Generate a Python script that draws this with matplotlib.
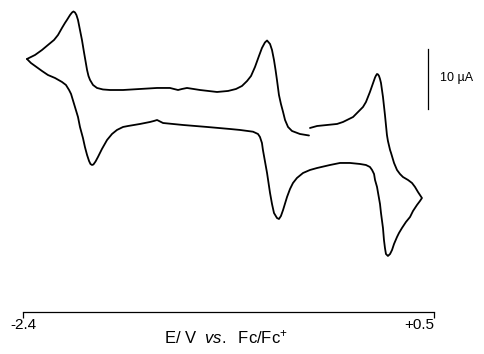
import numpy as np
import matplotlib
matplotlib.use("Agg")
import matplotlib.pyplot as plt

# Voltammogramme cyclique : potentiel en V (vs. Fc/Fc+), courant en microA
# (zero du courant arbitraire, le graphe n'a pas d'axe vertical)

# Balayage 1 : de la coupure vers le sommet anodique
E_aller = [-0.375, -0.325, -0.255, -0.184, -0.142, -0.114, -0.071, -0.043,
           -0.022, -0.001, 0.020, 0.034, 0.048, 0.063, 0.070, 0.084, 0.091,
           0.098, 0.105, 0.112, 0.119, 0.126, 0.133, 0.140, 0.147, 0.154,
           0.161, 0.168, 0.175, 0.190, 0.197, 0.218, 0.239, 0.260, 0.281,
           0.317, 0.345, 0.366, 0.387, 0.401, 0.415]
I_aller = [-0.50, -0.17, 0.00, 0.17, 0.50, 0.83, 1.33, 2.00,
           2.50, 3.00, 3.83, 4.67, 5.50, 6.50, 7.00, 7.92, 8.25,
           8.50, 8.42, 8.17, 7.67, 7.00, 5.83, 4.67, 3.17, 1.67,
           0.00, -1.67, -2.67, -4.17, -4.67, -6.33, -7.50, -8.17, -8.67,
           -9.17, -9.67, -10.33, -11.17, -11.67, -12.17]

# Balayage 2 : retour vers -2.4 V
E_retour = [0.401, 0.380, 0.352, 0.331, 0.302, 0.274, 0.253, 0.239, 0.218,
            0.204, 0.190, 0.175, 0.161, 0.154, 0.147, 0.140, 0.126, 0.119,
            0.105, 0.098, 0.084, 0.077, 0.063, 0.048, 0.020, -0.022, -0.093,
            -0.163, -0.234, -0.325, -0.375, -0.424, -0.467, -0.495, -0.516,
            -0.537, -0.565, -0.580, -0.594, -0.608, -0.629, -0.643, -0.657,
            -0.678, -0.693, -0.707, -0.714, -0.728, -0.742, -0.777, -0.869,
            -0.939, -1.102, -1.271, -1.412, -1.433, -1.454, -1.476, -1.504,
            -1.574, -1.659, -1.694, -1.737, -1.772, -1.807, -1.843, -1.871,
            -1.888, -1.903, -1.913, -1.924, -1.934, -1.948, -1.963, -1.977,
            -1.998, -2.012, -2.033, -2.047, -2.061, -2.075, -2.097, -2.125,
            -2.174, -2.224, -2.266, -2.315, -2.344, -2.372]
I_retour = [-12.67, -13.33, -14.33, -15.33, -16.17, -17.17, -18.00, -18.67,
            -19.83, -20.83, -21.50, -21.83, -21.50, -20.50, -19.17, -17.17,
            -14.67, -13.17, -11.33, -10.33, -9.17, -8.17, -7.50, -7.00,
            -6.67, -6.50, -6.33, -6.33, -6.67, -7.17, -7.50, -8.00, -8.83,
            -9.67, -10.67, -12.00, -14.17, -15.17, -15.67, -15.50, -14.67,
            -13.17, -11.33, -8.00, -6.00, -4.17, -3.00, -2.00, -1.50, -1.12,
            -0.83, -0.67, -0.33, 0.00, 0.33, 0.58, 0.83, 0.67, 0.50,
            0.17, -0.17, -0.33, -0.83, -1.50, -2.50, -4.00, -5.33,
            -6.08, -6.58, -6.67, -6.50, -6.00, -5.00, -3.67, -2.17,
            -0.33, 1.33, 3.00, 4.17, 5.17, 5.83, 6.67, 7.17,
            7.83, 8.33, 9.00, 9.83, 10.33, 11.00]

# Balayage 3 : de -2.4 V jusqu'a la coupure
E_fin = [-2.344, -2.315, -2.266, -2.224, -2.181, -2.153, -2.125, -2.104,
         -2.090, -2.068, -2.054, -2.044, -2.033, -2.023, -2.012, -1.998,
         -1.984, -1.970, -1.959, -1.948, -1.938, -1.927, -1.906, -1.878,
         -1.836, -1.786, -1.694, -1.574, -1.454, -1.363, -1.335, -1.306,
         -1.278, -1.243, -1.151, -1.031, -0.953, -0.897, -0.855, -0.819,
         -0.791, -0.763, -0.735, -0.714, -0.693, -0.678, -0.657, -0.643,
         -0.629, -0.618, -0.608, -0.594, -0.580, -0.565, -0.551, -0.530,
         -0.502, -0.446, -0.382]
I_fin = [11.33, 11.67, 12.50, 13.33, 14.17, 15.00, 16.17, 17.00,
         17.50, 18.33, 18.75, 18.92, 18.75, 18.33, 17.50, 15.83,
         14.17, 12.17, 10.67, 9.17, 8.17, 7.50, 6.67, 6.17,
         5.92, 5.83, 5.83, 6.00, 6.17, 6.17, 6.00, 5.83,
         6.00, 6.17, 5.83, 5.50, 5.67, 6.00, 6.50, 7.33,
         8.17, 9.67, 11.50, 12.83, 13.75, 14.08, 13.50, 12.50,
         10.83, 9.17, 7.50, 5.00, 3.50, 2.17, 0.83, -0.33,
         -1.00, -1.50, -1.75]

E_bornes = [-2.4, 0.5]
E_etiquettes = ["-2.4", "+0.5"]
echelle_uA = 10

#-----------------------------------------------------------------------

plt.rcParams['font.family'] = ['Liberation Sans', 'DejaVu Sans']
plt.rcParams['mathtext.fontset'] = 'custom'
plt.rcParams['mathtext.rm'] = 'Liberation Sans'
plt.rcParams['mathtext.it'] = 'Liberation Sans:italic'

fig = plt.figure(figsize=(4.85, 3.54), dpi=100)
ax = fig.add_axes([0, 0, 1, 1])
ax.set_xlim(-2.5623, 0.8599)
ax.set_ylim(-38.17, 20.83)

# Trace (coupure entre le debut et la fin du balayage)
ax.plot(E_aller + E_retour, I_aller + I_retour, 'k-', lw=1.3,
        solid_joinstyle='round', solid_capstyle='round')
ax.plot([E_retour[-1]] + E_fin, [I_retour[-1]] + I_fin, 'k-', lw=1.3,
        solid_joinstyle='round', solid_capstyle='round')

# Barre d'echelle
xb = 0.458
ax.plot([xb, xb], [2.67, 2.67 + echelle_uA], 'k-', lw=0.9)
ax.text(0.542, 7.9, "%d µA" % echelle_uA, fontsize=9,
        ha='left', va='center')

# Axe des potentiels
for s in ['left', 'right', 'top']:
    ax.spines[s].set_visible(False)
ax.spines['bottom'].set_position(('data', -31.17))
ax.spines['bottom'].set_bounds(E_bornes[0], E_bornes[1])
ax.spines['bottom'].set_linewidth(0.9)
ax.set_yticks([])
ax.set_xticks(E_bornes)
ax.set_xticklabels(E_etiquettes, fontsize=11)
ax.tick_params(axis='x', direction='out', length=4.5, width=0.9, pad=0)
lab = ax.get_xticklabels()
lab[1].set_ha('right')

ax.text(np.mean(E_bornes) - 0.02, -35.4,
        r"E/ V  $\mathit{vs.}$  Fc/Fc$^{+}$", fontsize=12,
        ha='center', va='center')

fig.savefig("out.png", dpi=100)
